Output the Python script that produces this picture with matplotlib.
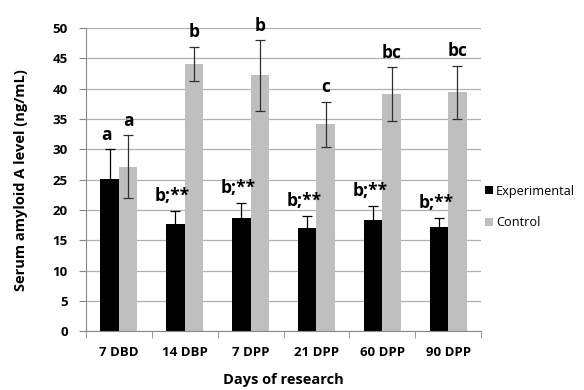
import numpy as np
import matplotlib.pyplot as plt

days = ["7 DBD", "14 DBP", "7 DPP", "21 DPP", "60 DPP", "90 DPP"]
exp_mean = [25.1, 17.7, 18.6, 17.0, 18.4, 17.1]
exp_err = [4.9, 2.2, 2.6, 2.0, 2.3, 1.6]
ctl_mean = [27.1, 44.1, 42.2, 34.1, 39.1, 39.4]
ctl_err = [5.2, 2.8, 5.8, 3.7, 4.4, 4.35]
exp_lab = ["a", "b;**", "b;**", "b;**", "b;**", "b;**"]
ctl_lab = ["a", "b", "b", "c", "bc", "bc"]

plt.rcParams['font.family'] = ['Open Sans', 'DejaVu Sans']

fig = plt.figure(figsize=(5.84, 3.90), dpi=100)
ax = fig.add_axes([0.147, 0.151, 0.677, 0.777])

x = np.arange(len(days))
w = 0.28
ax.bar(x - w/2, exp_mean, w, color='black', label='Experimental', zorder=2)
ax.bar(x + w/2, ctl_mean, w, color='#bfbfbf', label='Control', zorder=2)
ax.errorbar(x - w/2, exp_mean, yerr=exp_err, fmt='none', ecolor='black',
            elinewidth=0.9, capsize=3.5, capthick=0.9, zorder=3)
ax.errorbar(x + w/2, ctl_mean, yerr=ctl_err, fmt='none', ecolor='#303030',
            elinewidth=0.9, capsize=3.5, capthick=0.9, zorder=3)

for i in range(len(days)):
    ax.annotate(exp_lab[i], (x[i] - w/2, exp_mean[i] + exp_err[i]), xytext=(-2, 4),
                textcoords='offset points', ha='center', va='bottom',
                fontsize=12.5, fontweight='bold')
    ax.annotate(ctl_lab[i], (x[i] + w/2, ctl_mean[i] + ctl_err[i]), xytext=(0, 4),
                textcoords='offset points', ha='center', va='bottom',
                fontsize=12.5, fontweight='bold')

ax.set_xlim(-0.5, len(days) - 0.5)
ax.set_ylim(0, 50)
ax.set_yticks(np.arange(0, 51, 5))
ax.set_xticks(x)
ax.set_xticklabels(days)
ax.set_xticks(np.arange(len(days) + 1) - 0.5, minor=True)
ax.tick_params(axis='x', which='major', length=0, pad=11)
ax.tick_params(axis='x', which='minor', length=5, color='#888888')
ax.tick_params(axis='y', length=5, color='#888888', pad=8)
for lab in ax.get_xticklabels() + ax.get_yticklabels():
    lab.set_fontweight('bold')
    lab.set_fontsize(9.5)

ax.grid(axis='y', color='#b0b0b0', linewidth=0.9, zorder=0)
ax.set_axisbelow(True)
for s in ['top', 'right']:
    ax.spines[s].set_visible(False)
ax.spines['left'].set_color('#888888')
ax.spines['bottom'].set_color('#888888')

ax.set_ylabel("Serum amyloid A level (ng/mL)", fontsize=10.5, fontweight='bold', labelpad=18)
ax.set_xlabel("Days of research", fontsize=10.5, fontweight='bold', labelpad=10)

ax.legend(loc='center left', bbox_to_anchor=(1.0, 0.41), frameon=False,
          fontsize=9.2, handlelength=0.6, handleheight=0.6, handletextpad=0.25,
          labelspacing=1.45, borderaxespad=0.3, borderpad=0)

fig.savefig("out.png", dpi=100)
